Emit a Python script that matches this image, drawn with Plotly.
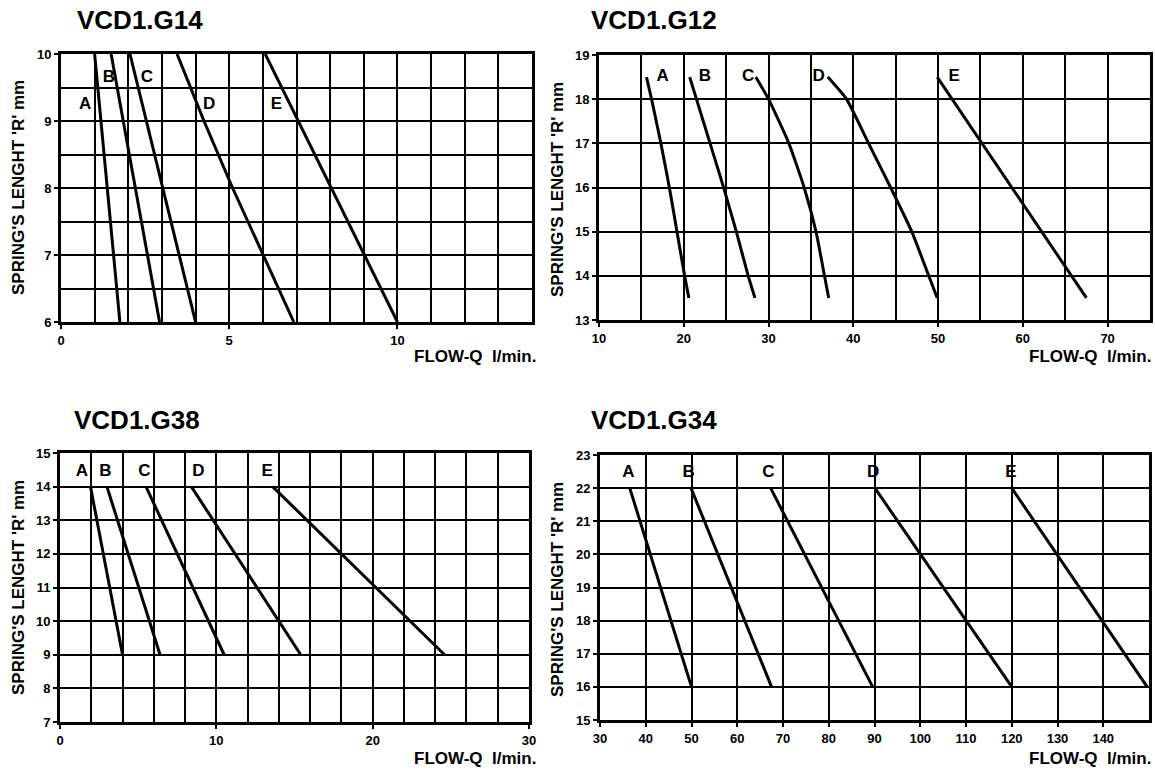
import plotly.graph_objects as go

W, H = 1155, 776
curve_names = ["A", "B", "C", "D", "E"]

# ---------------- data ----------------
# VCD1.G14
g14_flow = [
    [1.0, 1.75],
    [1.49, 2.93],
    [2.05, 4.0],
    [3.45, 4.25, 5.1, 6.0, 6.92],
    [6.07, 10.0],
]
g14_length = [
    [10, 6],
    [10, 6],
    [10, 6],
    [10, 9, 8, 7, 6],
    [10, 6],
]
g14_label_flow = [0.72, 1.42, 2.55, 4.4, 6.4]
g14_label_length = [9.25, 9.65, 9.65, 9.25, 9.25]
g14_xticks = [0, 5, 10]
g14_yticks = [6, 7, 8, 9, 10]

# VCD1.G12
g12_flow = [
    [15.6, 16.2, 17.3, 18.3, 19.2, 20.1, 20.6],
    [20.7, 21.5, 23.1, 24.7, 26.2, 27.6, 28.4],
    [28.5, 30.0, 32.4, 34.2, 35.6, 36.6, 37.1],
    [37.0, 39.2, 41.8, 44.4, 46.9, 48.9, 49.9],
    [49.9, 67.5],
]
g12_length = [
    [18.5, 18, 17, 16, 15, 14, 13.5],
    [18.5, 18, 17, 16, 15, 14, 13.5],
    [18.5, 18, 17, 16, 15, 14, 13.5],
    [18.5, 18, 17, 16, 15, 14, 13.5],
    [18.5, 13.5],
]
g12_label_flow = [17.5, 22.5, 27.6, 35.9, 51.9]
g12_label_length = [18.5, 18.5, 18.5, 18.5, 18.5]
g12_xticks = [10, 20, 30, 40, 50, 60, 70]
g12_yticks = [13, 14, 15, 16, 17, 18, 19]

# VCD1.G38
g38_flow = [
    [1.95, 4.0],
    [3.0, 6.4],
    [5.5, 10.5],
    [8.4, 15.4],
    [13.6, 24.6],
]
g38_length = [[14, 9] for _ in range(5)]
g38_label_flow = [1.4, 2.9, 5.4, 8.85, 13.25]
g38_label_length = [14.45, 14.45, 14.45, 14.45, 14.45]
g38_xticks = [0, 10, 20, 30]
g38_yticks = [7, 8, 9, 10, 11, 12, 13, 14, 15]

# VCD1.G34
g34_flow = [
    [36.5, 50.0],
    [49.9, 67.5],
    [67.3, 89.6],
    [90.1, 120.0],
    [120.0, 149.6],
]
g34_length = [[22, 16] for _ in range(5)]
g34_label_flow = [36.2, 49.4, 66.8, 89.7, 119.8]
g34_label_length = [22.45, 22.45, 22.45, 22.45, 22.45]
g34_xticks = [30, 40, 50, 60, 70, 80, 90, 100, 110, 120, 130, 140]
g34_yticks = [15, 16, 17, 18, 19, 20, 21, 22, 23]

# ---------------- layout helpers ----------------
FONT = "Liberation Sans"


def px_x(p):
    return p / W


def px_y(p):
    return 1 - p / H


panels = [
    dict(title="VCD1.G14", flow=g14_flow, length=g14_length,
         lx=g14_label_flow, ly=g14_label_length, xt=g14_xticks, yt=g14_yticks,
         xr=[0, 14], yr=[6, 10], xminor=1, yminor=0.5, spline=False,
         dom_x=(61, 532), dom_y=(54, 322), title_xy=(140, 20),
         ytitle_xy=(18, 188), flow_xy=(538, 357)),
    dict(title="VCD1.G12", flow=g12_flow, length=g12_length,
         lx=g12_label_flow, ly=g12_label_length, xt=g12_xticks, yt=g12_yticks,
         xr=[10, 75], yr=[13, 19], xminor=5, yminor=1, spline=True,
         dom_x=(599, 1150), dom_y=(55, 320), title_xy=(654, 20),
         ytitle_xy=(557, 190), flow_xy=(1153, 357)),
    dict(title="VCD1.G38", flow=g38_flow, length=g38_length,
         lx=g38_label_flow, ly=g38_label_length, xt=g38_xticks, yt=g38_yticks,
         xr=[0, 30], yr=[7, 15], xminor=2, yminor=1, spline=False,
         dom_x=(60, 529), dom_y=(453, 722), title_xy=(137, 420),
         ytitle_xy=(18, 588), flow_xy=(538, 758)),
    dict(title="VCD1.G34", flow=g34_flow, length=g34_length,
         lx=g34_label_flow, ly=g34_label_length, xt=g34_xticks, yt=g34_yticks,
         xr=[30, 150], yr=[15, 23], xminor=10, yminor=1, spline=False,
         dom_x=(600, 1149), dom_y=(455, 720), title_xy=(654, 420),
         ytitle_xy=(557, 590), flow_xy=(1153, 758)),
]

fig = go.Figure()
layout = dict(
    width=W, height=H,
    margin=dict(l=0, r=0, t=0, b=0, pad=0, autoexpand=False),
    paper_bgcolor="white", plot_bgcolor="white",
    showlegend=False,
    annotations=[],
)

tickfont = dict(family=FONT, size=13, color="black", weight="bold")

for i, p in enumerate(panels, start=1):
    xa = "xaxis" if i == 1 else f"xaxis{i}"
    ya = "yaxis" if i == 1 else f"yaxis{i}"
    xref = "x" if i == 1 else f"x{i}"
    yref = "y" if i == 1 else f"y{i}"

    common = dict(
        showline=True, linecolor="black", linewidth=3, mirror=True,
        showgrid=True, gridcolor="black", gridwidth=2,
        zeroline=False, ticks="outside", ticklen=4, tickwidth=2,
        tickcolor="black", tickfont=tickfont, fixedrange=True,
        automargin=False,
    )
    layout[xa] = dict(
        common, domain=[px_x(p["dom_x"][0]), px_x(p["dom_x"][1])],
        range=p["xr"], tickmode="array", tickvals=p["xt"],
        ticktext=[str(v) for v in p["xt"]], anchor=yref,
        minor=dict(tick0=p["xr"][0], dtick=p["xminor"], showgrid=True,
                   gridcolor="black", gridwidth=2, ticks=""),
    )
    layout[ya] = dict(
        common, domain=[px_y(p["dom_y"][1]), px_y(p["dom_y"][0])],
        range=p["yr"], tickmode="array", tickvals=p["yt"],
        ticktext=[str(v) for v in p["yt"]], anchor=xref,
        minor=dict(tick0=p["yr"][0], dtick=p["yminor"], showgrid=True,
                   gridcolor="black", gridwidth=2, ticks=""),
    )

    for name, fx, fy in zip(curve_names, p["flow"], p["length"]):
        fig.add_trace(go.Scatter(
            x=fx, y=fy, mode="lines", name=name,
            line=dict(color="black", width=3,
                      shape="spline" if p["spline"] else "linear",
                      smoothing=0.5),
            xaxis=xref, yaxis=yref, hoverinfo="skip", cliponaxis=False,
        ))
    fig.add_trace(go.Scatter(
        x=p["lx"], y=p["ly"], mode="text", text=curve_names,
        textfont=dict(family=FONT, size=17, color="black", weight="bold"),
        xaxis=xref, yaxis=yref, hoverinfo="skip",
    ))

    layout["annotations"].append(dict(
        text=p["title"], xref="paper", yref="paper",
        x=px_x(p["title_xy"][0]), y=px_y(p["title_xy"][1]),
        showarrow=False, xanchor="center", yanchor="middle",
        font=dict(family=FONT, size=26, color="black", weight="bold"),
    ))
    layout["annotations"].append(dict(
        text="SPRING'S LENGHT 'R' mm", xref="paper", yref="paper",
        x=px_x(p["ytitle_xy"][0]), y=px_y(p["ytitle_xy"][1]),
        showarrow=False, xanchor="center", yanchor="middle", textangle=-90,
        font=dict(family=FONT, size=17, color="black", weight="bold"),
    ))
    layout["annotations"].append(dict(
        text="FLOW-Q  l/min.", xref="paper", yref="paper",
        x=px_x(p["flow_xy"][0]), y=px_y(p["flow_xy"][1]),
        showarrow=False, xanchor="right", yanchor="middle",
        font=dict(family=FONT, size=17, color="black", weight="bold"),
    ))

fig.update_layout(**layout)
fig.write_html(
    "out.html",
    config=dict(displayModeBar=False),
    post_script="document.body.style.margin='0';document.body.style.padding='0';",
)
